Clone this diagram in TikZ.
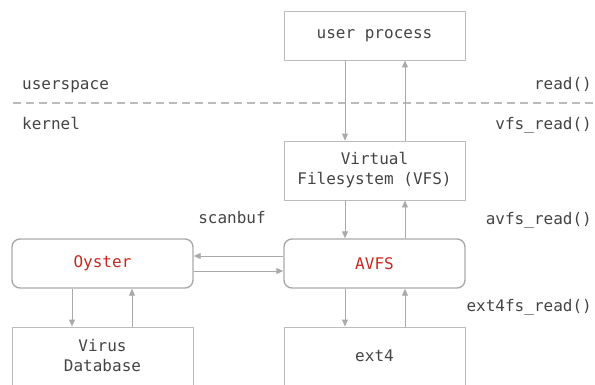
\documentclass[tikz,border=0pt]{standalone}
\usepackage{fontspec}
\setmainfont{DejaVu Sans Mono}
\usetikzlibrary{arrows.meta}
\definecolor{boxgray}{HTML}{BBBBBB}
\definecolor{rgray}{HTML}{AAAAAA}
\definecolor{txt}{HTML}{444444}
\definecolor{redtxt}{HTML}{C8281E}
\tikzset{
  plainbox/.style={draw=boxgray, line width=0.9pt, minimum width=181pt, minimum height=49pt, inner sep=0pt, text=txt, align=center, font=\fontsize{16}{20}\selectfont},
  roundbox/.style={plainbox, draw=rgray, line width=1.4pt, rounded corners=8pt, text=redtxt},
  lbl/.style={text=txt, inner sep=0pt, font=\fontsize{16}{20}\selectfont},
  arr/.style={draw=rgray, line width=0.9pt, -{Triangle[length=7pt,width=6pt]}, rgray},
}
\begin{document}
\begin{tikzpicture}[x=1pt,y=-1pt]
\useasboundingbox (0,0) rectangle (595,384);
\clip (0,0) rectangle (595,384);
\node[plainbox] (up) at (374.5,35.5) {user process};
\node[plainbox, minimum height=59pt] (vfs) at (374.5,170.5) {Virtual\\Filesystem (VFS)};
\node[roundbox] (avfs) at (374.5,263.5) {AVFS};
\node[plainbox, minimum height=58pt] (ext) at (374.5,356) {ext4};
\node[roundbox] (oys) at (102.5,263.5) {Oyster};
\node[plainbox, minimum height=58pt] (vdb) at (102.5,356) {Virus\\Database};
\coordinate (cL) at (345,0);
\coordinate (cR) at (405,0);
\coordinate (oL) at (72,0);
\coordinate (oR) at (132,0);
\coordinate (rA) at (0,256);
\coordinate (rB) at (0,271);
\coordinate (dl) at (13,103);
\coordinate (dr) at (595,103);
\draw[draw=boxgray, line width=1.3pt, dash pattern=on 8pt off 5pt] (dl) -- (dr);
\node[lbl, anchor=base west] (us) at (22,89) {userspace};
\node[lbl, anchor=base west] (kn) at (22,129) {kernel};
\node[lbl, anchor=base east] (rd) at (592,89) {read()};
\node[lbl, anchor=base east] (vr) at (592,129) {vfs\_read()};
\node[lbl, anchor=base east] (ar) at (592,224) {avfs\_read()};
\node[lbl, anchor=base east] (er) at (592,311) {ext4fs\_read()};
\node[lbl, anchor=base] (sb) at (232,223) {scanbuf};
\draw[arr] (up.south -| cL) -- (vfs.north -| cL);
\draw[arr] (vfs.north -| cR) -- (up.south -| cR);
\draw[arr] (vfs.south -| cL) -- (avfs.north -| cL);
\draw[arr] (avfs.north -| cR) -- (vfs.south -| cR);
\draw[arr] (avfs.south -| cL) -- (ext.north -| cL);
\draw[arr] (ext.north -| cR) -- (avfs.south -| cR);
\draw[arr] (oys.south -| oL) -- (vdb.north -| oL);
\draw[arr] (vdb.north -| oR) -- (oys.south -| oR);
\draw[arr] (avfs.west |- rA) -- (oys.east |- rA);
\draw[arr] (oys.east |- rB) -- (avfs.west |- rB);
\end{tikzpicture}
\end{document}
